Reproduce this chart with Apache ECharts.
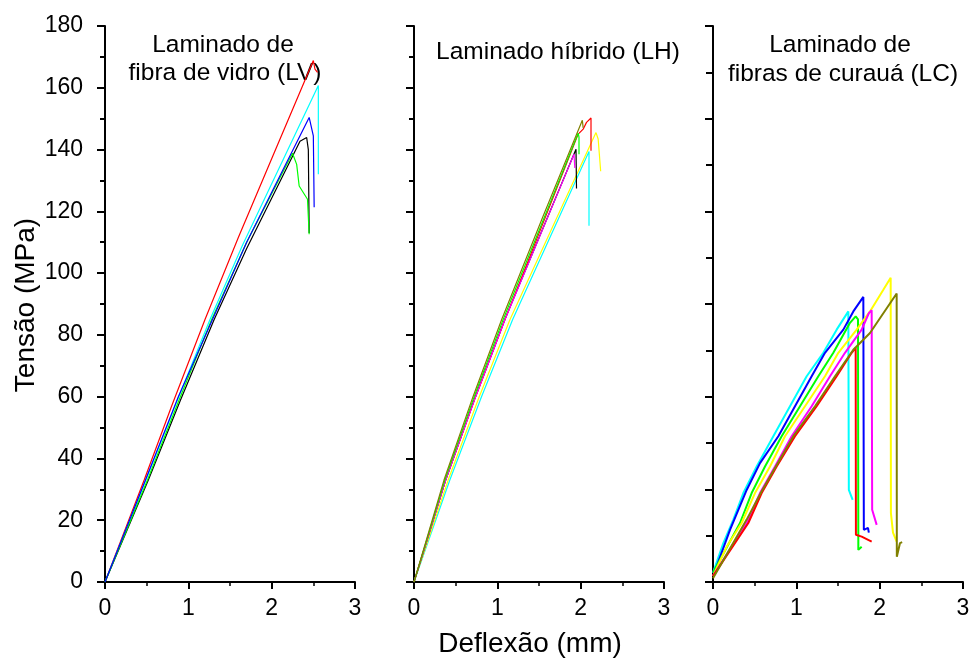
<!DOCTYPE html>
<html>
<head>
<meta charset="utf-8" />
<title>Tensão x Deflexão</title>
<script src="https://cdn.jsdelivr.net/npm/echarts@6/dist/echarts.min.js"></script>
<style>
body { margin: 0; background: #fff; }
#chart { width: 974px; height: 659px; }
</style>
</head>
<body>
<div id="chart"></div>
<script>
// cores padrão do Origin
var cBlack = '#000000', cRed = '#ff0000', cGreen = '#00ff00', cBlue = '#0000ff';
var cCyan = '#00ffff', cMagenta = '#ff00ff', cYellow = '#ffff00', cOlive = '#808000';

// painel 1 - laminado de fibra de vidro (LV), [deflexão mm, tensão MPa]
var lvRed = [[0,0],[0.47,33],[0.8,57],[1.2,85],[1.6,111.5],[2.0,137],[2.5,168.8],[2.52,166],[2.55,165]];
var lvCyan = [[0,0],[0.49,33],[0.87,59],[1.26,85],[1.65,109],[2.56,160.7],[2.56,132]];
var lvBlue = [[0,0],[0.5,34],[0.88,60],[1.29,85],[1.7,110],[2.45,150.4],[2.5,144.4],[2.51,121.3]];
var lvBlack = [[0,0],[0.52,33],[0.9,58.5],[1.31,85],[1.7,108],[2.34,142.7],[2.42,143.9],[2.44,140],[2.45,113]];
var lvGreen = [[0,0],[0.51,33],[0.89,59],[1.28,85],[1.7,110],[2.25,138.8],[2.3,135.2],[2.33,128.2],[2.43,123.9],[2.45,112.6]];

// painel 2 - laminado híbrido (LH)
var lhOlive = [[0,0],[0.36,33],[0.708,60],[1.052,85],[1.55,118.5],[2.02,149.5],[2.03,147]];
var lhGreen = [[0,0],[0.37,33],[0.722,60],[1.07,85],[1.97,145.3],[1.98,144],[1.98,138.5]];
var lhRed = [[0,0],[0.38,33],[0.74,60],[1.092,85],[1.97,145],[2.03,146.6],[2.07,148.8],[2.124,150.2],[2.124,139.6]];
var lhBlack = [[0,0],[0.38,33],[0.737,60],[1.09,85],[1.944,140.1],[1.95,127.4]];
var lhMagenta = [[0,0],[0.38,33],[0.74,60],[1.092,85],[1.92,138.5],[1.93,134]];
var lhYellow = [[0,0],[0.41,33],[0.783,60],[1.152,85],[2.184,145.5],[2.21,143.4],[2.24,133]];
var lhCyan = [[0,0],[0.43,33],[0.81,60],[1.184,85],[2.1,139.4],[2.1,115.3]];

// painel 3 - laminado de fibras de curauá (LC)
var lcCyan = [[0,3],[0.124,12.6],[0.244,20.2],[0.364,28.8],[0.524,37.4],[0.724,47.2],[0.924,56.9],[1.124,66.6],[1.324,74.2],[1.484,81.7],[1.624,87.6],[1.63,29.8],[1.676,26.6]];
var lcBlue = [[0,3],[0.044,5.1],[0.204,16.9],[0.404,29.8],[0.564,38.5],[0.784,47.2],[0.984,56.9],[1.184,66.6],[1.344,74.2],[1.564,81.7],[1.684,87.6],[1.804,92.3],[1.81,16.9],[1.86,17.5],[1.87,16]];
var lcGreen = [[0,3],[0.024,3],[0.324,19.1],[0.464,28.8],[0.624,37.4],[0.824,47.2],[1.044,56.9],[1.264,66.6],[1.444,74.2],[1.644,83.9],[1.712,86],[1.74,85],[1.744,10.4],[1.784,11.4]];
var lcYellow = [[0,1.9],[0.164,11.4],[0.344,19.1],[0.504,28.8],[0.684,37.4],[0.864,47.2],[1.104,56.9],[1.344,66.6],[1.504,74.2],[1.724,81.7],[1.884,87.6],[2.044,94.6],[2.132,98.5],[2.135,22.3],[2.16,16],[2.204,13.1]];
var lcMagenta = [[0,1.9],[0.024,1.9],[0.404,19.1],[0.564,28.8],[0.744,37.4],[0.944,47.2],[1.184,56.9],[1.404,66.6],[1.584,74.2],[1.784,81.7],[1.87,87],[1.904,88],[1.91,23.4],[1.964,18.5]];
var lcRed = [[0,1.9],[0.424,19.1],[0.584,28.8],[0.764,37.4],[0.984,47.2],[1.244,56.9],[1.484,66.6],[1.664,74.2],[1.712,75.8],[1.715,15.3],[1.784,14.7],[1.904,13.1]];
var lcOlive = [[0,1.2],[0.404,20.2],[0.584,29.4],[0.764,37.9],[0.964,47.2],[1.224,56.9],[1.464,66.6],[1.684,75.2],[1.884,80.6],[2.204,93.4],[2.206,8.2],[2.244,12.6],[2.27,12.9]];

var gridLefts = [105, 414, 713];

function xAx(i) {
  return {
    type: 'value', gridIndex: i, min: 0, max: 3, interval: 1,
    axisLine: { onZero: false, lineStyle: { color: '#000', width: 2 } },
    axisTick: { length: 7, lineStyle: { color: '#000', width: 2 } },
    minorTick: { show: true, splitNumber: 2, length: 4, lineStyle: { color: '#000', width: 1.5 } },
    splitLine: { show: false },
    axisLabel: { color: '#000', fontSize: 23, fontFamily: 'Liberation Sans', margin: 15 }
  };
}
function yAx(i, step) {
  return {
    type: 'value', gridIndex: i, min: 0, max: 180, interval: step,
    axisLine: { onZero: false, lineStyle: { color: '#000', width: 2 } },
    axisTick: { length: 8, lineStyle: { color: '#000', width: 2 } },
    minorTick: { show: true, splitNumber: 2, length: i == 2 ? 7 : 5, lineStyle: { color: '#000', width: 2 } },
    splitLine: { show: false },
    axisLabel: { show: i == 0, color: '#000', fontSize: 23, fontFamily: 'Liberation Sans', margin: 22 }
  };
}
function ser(i, color, data, w) {
  return {
    type: 'line', xAxisIndex: i, yAxisIndex: i, data: data,
    showSymbol: false, symbol: 'none', z: 3,
    lineStyle: { color: color, width: w }
  };
}
function txt(x, y, s, size, rot) {
  return {
    type: 'text', x: x, y: y, rotation: rot || 0,
    style: { text: s, fill: '#000', fontSize: size, fontFamily: 'Liberation Sans', align: 'center', verticalAlign: 'middle' }
  };
}

var myChart = echarts.init(document.getElementById('chart'));
var option = {
  animation: false,
  backgroundColor: '#fff',
  grid: gridLefts.map(function (l) { return { left: l, top: 26, width: 250, height: 556 }; }),
  xAxis: [xAx(0), xAx(1), xAx(2)],
  yAxis: [yAx(0, 20), yAx(1, 20), yAx(2, 30)],
  series: [
    ser(0, cRed, lvRed, 1.2), ser(0, cCyan, lvCyan, 1.2), ser(0, cBlack, lvBlack, 1.2),
    ser(0, cGreen, lvGreen, 1.2), ser(0, cBlue, lvBlue, 1.2),
    ser(1, cCyan, lhCyan, 1.2), ser(1, cYellow, lhYellow, 1.2), ser(1, cBlack, lhBlack, 1.2),
    ser(1, cRed, lhRed, 1.2), ser(1, cMagenta, lhMagenta, 1.2), ser(1, cGreen, lhGreen, 1.2),
    ser(1, cOlive, lhOlive, 1.2),
    ser(2, cCyan, lcCyan, 2), ser(2, cBlue, lcBlue, 2), ser(2, cGreen, lcGreen, 2),
    ser(2, cYellow, lcYellow, 2), ser(2, cMagenta, lcMagenta, 2), ser(2, cRed, lcRed, 2),
    ser(2, cOlive, lcOlive, 2)
  ],
  graphic: [
    txt(223, 45, 'Laminado de', 24.5),
    txt(225, 73, 'fibra de vidro (LV)', 24.5),
    txt(558, 52, 'Laminado híbrido (LH)', 24.5),
    txt(840, 45, 'Laminado de', 24.5),
    txt(843, 74, 'fibras de curauá (LC)', 24.5),
    txt(26, 305, 'Tensão (MPa)', 28, Math.PI / 2),
    txt(530, 644, 'Deflexão (mm)', 28)
  ]
};
option && myChart.setOption(option);
</script>
</body>
</html>
